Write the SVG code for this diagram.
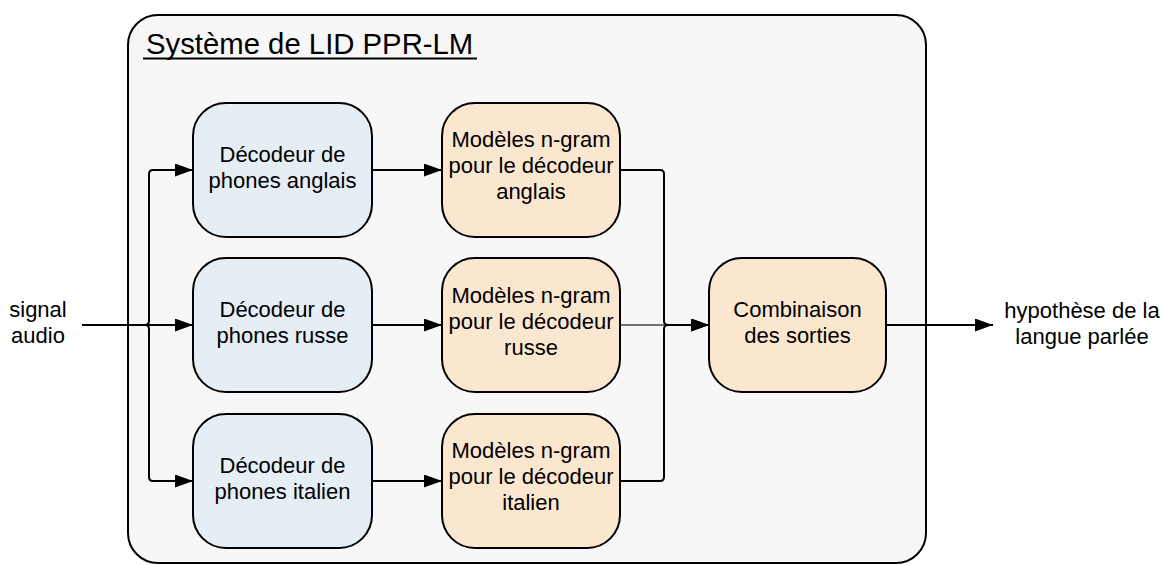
<svg xmlns="http://www.w3.org/2000/svg" width="1161" height="565" viewBox="0 0 1161 565">
  <style>
    .lbl { font-family: "Liberation Sans", Arial, sans-serif; font-size: 22px; fill: #000; text-anchor: middle; }
    .title { font-family: "Liberation Sans", Arial, sans-serif; font-size: 29.3px; fill: #000; }
    .dec { fill: #e5edf5; stroke: #000; stroke-width: 2; }
    .lm { fill: #fbe7d0; stroke: #000; stroke-width: 2; }
    .wire { fill: none; stroke: #000; stroke-width: 2; }
    .wire-soft { fill: none; stroke: #444; stroke-width: 1.6; }
  </style>
  <defs>
    <marker id="arrow" markerUnits="userSpaceOnUse" markerWidth="18" markerHeight="13" refX="18" refY="6.5" orient="auto">
      <path d="M0,0 L18,6.5 L0,13 z" fill="#000"/>
    </marker>
  </defs>

  <!-- system container -->
  <g id="system">
    <rect x="128" y="15" width="798" height="548" rx="30" ry="30" fill="#f7f7f7" stroke="#000" stroke-width="2"/>
    <text class="title" x="146" y="54">Système de LID PPR-LM</text>
    <line x1="143" y1="58.5" x2="477" y2="58.5" stroke="#000" stroke-width="2"/>
  </g>

  <!-- connectors -->
  <g id="connectors">
    <!-- signal fan-out -->
    <path class="wire" d="M82,325 H193" marker-end="url(#arrow)"/>
    <path class="wire" d="M82,325 H145 Q149,325 149,321 V174 Q149,170 153,170 H193" marker-end="url(#arrow)"/>
    <path class="wire" d="M82,325 H145 Q149,325 149,329 V477 Q149,481 153,481 H193" marker-end="url(#arrow)"/>
    <!-- decoders to n-gram models -->
    <path class="wire" d="M372,170 H442" marker-end="url(#arrow)"/>
    <path class="wire" d="M372,325 H442" marker-end="url(#arrow)"/>
    <path class="wire" d="M372,481 H442" marker-end="url(#arrow)"/>
    <!-- n-gram models to combination -->
    <path class="wire" d="M620,170 H660 Q664,170 664,174 V321 Q664,325 668,325 H709" marker-end="url(#arrow)"/>
    <path class="wire" d="M620,481 H660 Q664,481 664,477 V329 Q664,325 668,325 H709" marker-end="url(#arrow)"/>
    <path class="wire-soft" d="M620,325 H664"/>
    <!-- output -->
    <path class="wire" d="M886,325 H993" marker-end="url(#arrow)"/>
  </g>

  <!-- external labels -->
  <g id="signal-audio">
    <text class="lbl" x="38" y="317">signal</text>
    <text class="lbl" x="38" y="343">audio</text>
  </g>
  <g id="hypothese">
    <text class="lbl" x="1082" y="318">hypothèse de la</text>
    <text class="lbl" x="1082" y="344">langue parlée</text>
  </g>

  <!-- phone decoders -->
  <g id="dec-anglais">
    <rect class="dec" x="193" y="103" width="179" height="134" rx="33" ry="33"/>
    <text class="lbl" x="282.5" y="162">Décodeur de</text>
    <text class="lbl" x="282.5" y="188">phones anglais</text>
  </g>
  <g id="dec-russe">
    <rect class="dec" x="193" y="258" width="179" height="134" rx="33" ry="33"/>
    <text class="lbl" x="282.5" y="317">Décodeur de</text>
    <text class="lbl" x="282.5" y="343">phones russe</text>
  </g>
  <g id="dec-italien">
    <rect class="dec" x="193" y="414" width="179" height="134" rx="33" ry="33"/>
    <text class="lbl" x="282.5" y="473">Décodeur de</text>
    <text class="lbl" x="282.5" y="499">phones italien</text>
  </g>

  <!-- n-gram language models -->
  <g id="lm-anglais">
    <rect class="lm" x="442" y="103" width="178" height="134" rx="33" ry="33"/>
    <text class="lbl" x="531" y="147">Modèles n-gram</text>
    <text class="lbl" x="531" y="173">pour le décodeur</text>
    <text class="lbl" x="531" y="199">anglais</text>
  </g>
  <g id="lm-russe">
    <rect class="lm" x="442" y="258" width="178" height="134" rx="33" ry="33"/>
    <text class="lbl" x="531" y="303">Modèles n-gram</text>
    <text class="lbl" x="531" y="329">pour le décodeur</text>
    <text class="lbl" x="531" y="355">russe</text>
  </g>
  <g id="lm-italien">
    <rect class="lm" x="442" y="414" width="178" height="134" rx="33" ry="33"/>
    <text class="lbl" x="531" y="458">Modèles n-gram</text>
    <text class="lbl" x="531" y="484">pour le décodeur</text>
    <text class="lbl" x="531" y="510">italien</text>
  </g>

  <!-- score fusion -->
  <g id="combinaison">
    <rect class="lm" x="709" y="258" width="177" height="134" rx="33" ry="33"/>
    <text class="lbl" x="797.5" y="317">Combinaison</text>
    <text class="lbl" x="797.5" y="343">des sorties</text>
  </g>
</svg>
